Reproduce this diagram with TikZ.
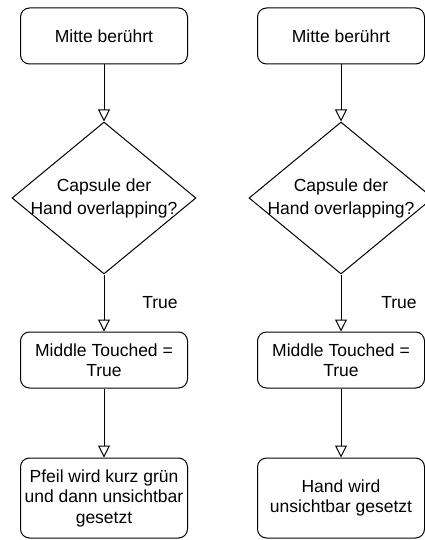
\documentclass[tikz,border=0pt]{standalone}
\usepackage{fontspec}
\setmainfont{Liberation Sans}
\usetikzlibrary{arrows.meta, shapes.geometric}

\begin{document}
\begin{tikzpicture}[x=1pt, y=-1pt, font=\fontsize{17.5}{20.5}\selectfont,
	box/.style={draw, line width=1pt, rounded corners=9pt, minimum width=167pt, align=center, inner sep=0pt},
	decision/.style={draw, diamond, line width=1pt, minimum width=184pt, minimum height=152pt, inner sep=0pt},
	flow/.style={draw, line width=1pt, -{Triangle[open, length=12pt, width=12pt]}}]
	\useasboundingbox					(0,0) rectangle (424,540);
	% left column
	\node[box, minimum height=56pt]		(start1) at (104,36) {Mitte berührt};
	\node[decision, label={[align=center, font=\fontsize{17.5}{23}\selectfont]center:Capsule der\\Hand overlapping?}]	(check1) at (104,198) {};
	\node[box, minimum height=56pt]		(touch1) at (104,360) {Middle Touched =\\True};
	\node[box, minimum height=80pt]		(end1) at (104,498) {Pfeil wird kurz grün\\und dann unsichtbar\\gesetzt};
	\node[]						(true1) at (160,303) {True};
	\draw[flow]					(start1) -- (check1);
	\draw[flow]					(check1) -- (touch1);
	\draw[flow]					(touch1) -- (end1);
	% right column
	\node[box, minimum height=56pt]		(start2) at (341,36) {Mitte berührt};
	\node[decision, label={[align=center, font=\fontsize{17.5}{23}\selectfont]center:Capsule der\\Hand overlapping?}]	(check2) at (341,198) {};
	\node[box, minimum height=56pt]		(touch2) at (341,360) {Middle Touched =\\True};
	\node[box, minimum height=80pt]		(end2) at (341,498) {Hand wird\\unsichtbar gesetzt};
	\node[]						(true2) at (399,303) {True};
	\draw[flow]					(start2) -- (check2);
	\draw[flow]					(check2) -- (touch2);
	\draw[flow]					(touch2) -- (end2);
\end{tikzpicture}
\end{document}
